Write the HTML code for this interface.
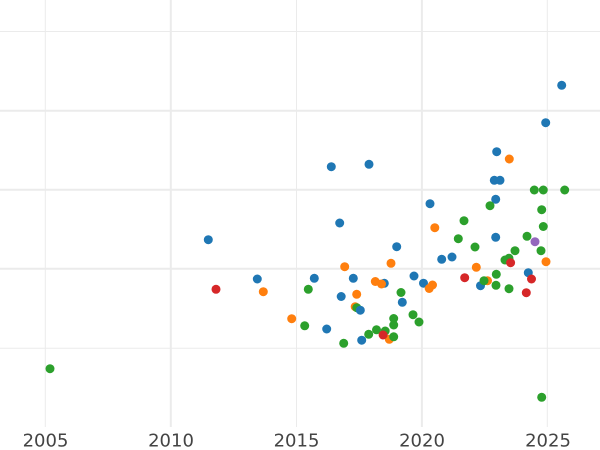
<!DOCTYPE html>
<html><head><meta charset="utf-8"><style>
html,body{margin:0;padding:0;background:#fff;}
svg{display:block;}
</style></head><body>
<svg width="600" height="450" viewBox="0 0 600 450" xmlns="http://www.w3.org/2000/svg">
<rect width="600" height="450" fill="#fff"/>
<g stroke="#ebebeb">
<line x1="0" x2="600" y1="31.5" y2="31.5" stroke-width="1"/>
<line x1="0" x2="600" y1="110.8" y2="110.8" stroke-width="2"/>
<line x1="0" x2="600" y1="189.8" y2="189.8" stroke-width="2"/>
<line x1="0" x2="600" y1="268.8" y2="268.8" stroke-width="2"/>
<line x1="0" x2="600" y1="348.3" y2="348.3" stroke-width="1"/>
<line x1="45.3" x2="45.3" y1="0" y2="427" stroke-width="1"/>
<line x1="170.8" x2="170.8" y1="0" y2="427" stroke-width="2"/>
<line x1="296.5" x2="296.5" y1="0" y2="427" stroke-width="1"/>
<line x1="421.9" x2="421.9" y1="0" y2="427" stroke-width="2"/>
<line x1="547.3" x2="547.3" y1="0" y2="427" stroke-width="1"/>
</g>
<g font-family="DejaVu Sans, sans-serif" font-size="18" fill="#444" text-anchor="middle">
<text x="45.5" y="446.5">2005</text>
<text x="171" y="446.5">2010</text>
<text x="296.5" y="446.5">2015</text>
<text x="422" y="446.5">2020</text>
<text x="548" y="446.5">2025</text>
</g>
<g fill="#1f77b4">
<circle cx="561.7" cy="85.3" r="4.5"/>
<circle cx="545.7" cy="122.7" r="4.5"/>
<circle cx="496.7" cy="151.7" r="4.5"/>
<circle cx="331.3" cy="166.7" r="4.5"/>
<circle cx="369" cy="164.3" r="4.5"/>
<circle cx="494.3" cy="180.3" r="4.5"/>
<circle cx="500" cy="180.3" r="4.5"/>
<circle cx="495.7" cy="199.3" r="4.5"/>
<circle cx="430" cy="203.7" r="4.5"/>
<circle cx="339.7" cy="223" r="4.5"/>
<circle cx="208.3" cy="239.7" r="4.5"/>
<circle cx="257.3" cy="279" r="4.5"/>
<circle cx="495.7" cy="237.3" r="4.5"/>
<circle cx="396.7" cy="246.7" r="4.5"/>
<circle cx="441.7" cy="259.3" r="4.5"/>
<circle cx="452" cy="257" r="4.5"/>
<circle cx="528.3" cy="272.7" r="4.5"/>
<circle cx="314.3" cy="278.3" r="4.5"/>
<circle cx="353.3" cy="278.3" r="4.5"/>
<circle cx="384.3" cy="283.3" r="4.5"/>
<circle cx="414" cy="276" r="4.5"/>
<circle cx="423.5" cy="283.2" r="4.5"/>
<circle cx="480.5" cy="285.7" r="4.5"/>
<circle cx="341.2" cy="296.5" r="4.5"/>
<circle cx="402.3" cy="302.3" r="4.5"/>
<circle cx="326.7" cy="329" r="4.5"/>
<circle cx="361.7" cy="340.2" r="4.5"/>
</g>
<g fill="#ff7f0e">
<circle cx="509.3" cy="159" r="4.5"/>
<circle cx="434.8" cy="227.7" r="4.5"/>
<circle cx="263.3" cy="291.7" r="4.5"/>
<circle cx="291.7" cy="318.7" r="4.5"/>
<circle cx="546" cy="261.7" r="4.5"/>
<circle cx="391" cy="263.3" r="4.5"/>
<circle cx="344.7" cy="266.7" r="4.5"/>
<circle cx="476.3" cy="267.3" r="4.5"/>
<circle cx="375.3" cy="281.5" r="4.5"/>
<circle cx="381.5" cy="284" r="4.5"/>
<circle cx="432.5" cy="285" r="4.5"/>
<circle cx="429.2" cy="288.5" r="4.5"/>
<circle cx="487.5" cy="280.7" r="4.5"/>
<circle cx="356.7" cy="294.3" r="4.5"/>
<circle cx="355.2" cy="306.7" r="4.5"/>
<circle cx="389.3" cy="339.3" r="4.5"/>
</g>
<g fill="#2ca02c">
<circle cx="534.3" cy="190" r="4.5"/>
<circle cx="543.3" cy="190" r="4.5"/>
<circle cx="564.7" cy="190" r="4.5"/>
<circle cx="490" cy="205.7" r="4.5"/>
<circle cx="541.7" cy="209.7" r="4.5"/>
<circle cx="464" cy="220.7" r="4.5"/>
<circle cx="543.3" cy="226.5" r="4.5"/>
<circle cx="50" cy="368.7" r="4.5"/>
<circle cx="458.3" cy="238.7" r="4.5"/>
<circle cx="527" cy="236.3" r="4.5"/>
<circle cx="475" cy="247" r="4.5"/>
<circle cx="515" cy="250.7" r="4.5"/>
<circle cx="541" cy="250.7" r="4.5"/>
<circle cx="505" cy="260" r="4.5"/>
<circle cx="509" cy="258.3" r="4.5"/>
<circle cx="496.3" cy="274.3" r="4.5"/>
<circle cx="484" cy="280.7" r="4.5"/>
<circle cx="496" cy="285.3" r="4.5"/>
<circle cx="509" cy="288.7" r="4.5"/>
<circle cx="308.3" cy="289.3" r="4.5"/>
<circle cx="401" cy="292.5" r="4.5"/>
<circle cx="356.8" cy="307.7" r="4.5"/>
<circle cx="393.7" cy="318.5" r="4.5"/>
<circle cx="393.7" cy="325" r="4.5"/>
<circle cx="413" cy="314.7" r="4.5"/>
<circle cx="419" cy="322" r="4.5"/>
<circle cx="304.7" cy="325.8" r="4.5"/>
<circle cx="376.5" cy="329.8" r="4.5"/>
<circle cx="385.2" cy="331" r="4.5"/>
<circle cx="368.7" cy="334.3" r="4.5"/>
<circle cx="393.7" cy="336.8" r="4.5"/>
<circle cx="343.7" cy="343.3" r="4.5"/>
<circle cx="541.7" cy="397.3" r="4.5"/>
</g>
<circle cx="360.3" cy="310.2" r="4.5" fill="#1f77b4"/>
<g fill="#d62728">
<circle cx="216" cy="289.3" r="4.5"/>
<circle cx="510.6" cy="262.7" r="4.5"/>
<circle cx="531.5" cy="279" r="4.5"/>
<circle cx="464.7" cy="277.7" r="4.5"/>
<circle cx="526.3" cy="292.7" r="4.5"/>
<circle cx="383.1" cy="335" r="4.5"/>
</g>
<circle cx="535" cy="241.7" r="4.5" fill="#9467bd"/>
</svg>
</body></html>
